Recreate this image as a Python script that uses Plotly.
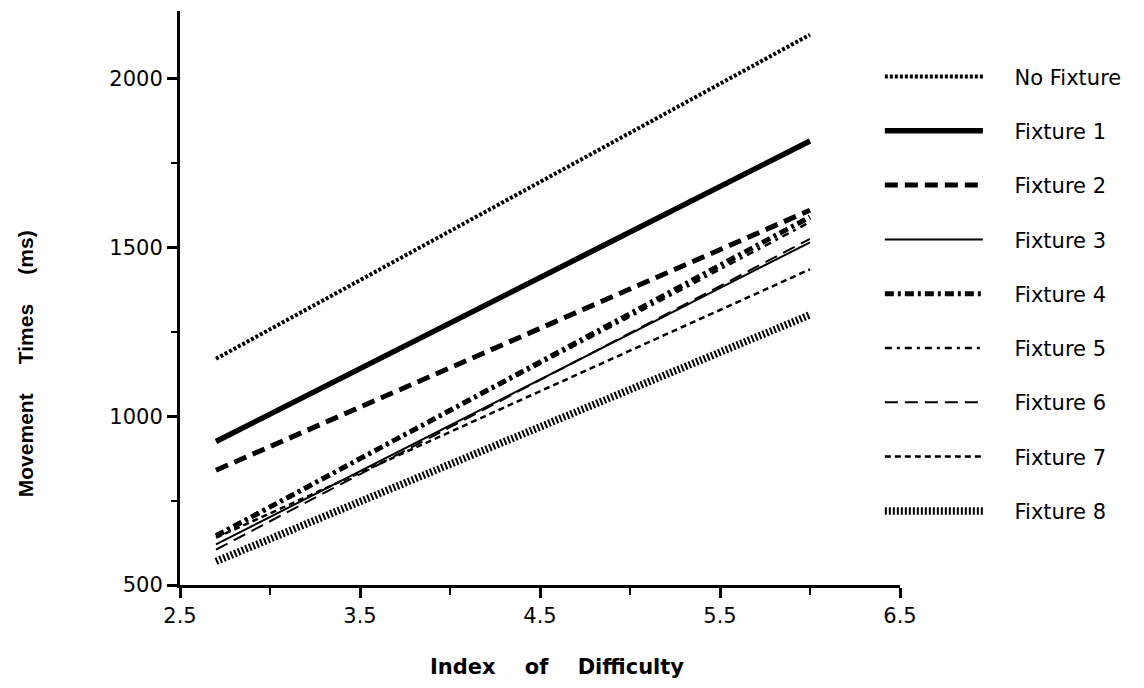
import plotly.graph_objects as go

# ---- data ----
id_values = [2.7, 6.0]
series_names = ["No Fixture", "Fixture 1", "Fixture 2", "Fixture 3", "Fixture 4",
                "Fixture 5", "Fixture 6", "Fixture 7", "Fixture 8"]
no_fixture = [1170, 2130]
fixture_1 = [925, 1815]
fixture_2 = [840, 1610]
fixture_3 = [620, 1515]
fixture_4 = [645, 1590]
fixture_5 = [650, 1575]
fixture_6 = [605, 1525]
fixture_7 = [640, 1435]
fixture_8 = [570, 1300]
series_values = [no_fixture, fixture_1, fixture_2, fixture_3, fixture_4,
                 fixture_5, fixture_6, fixture_7, fixture_8]

x_tick_vals = [2.5, 3.5, 4.5, 5.5, 6.5]
x_tick_text = ["2.5", "3.5", "4.5", "5.5", "6.5"]
y_tick_vals = [500, 1000, 1500, 2000]
y_tick_text = ["500", "1000", "1500", "2000"]

# ---- styles ----
styles = [
    dict(width=4, dash="3px,2px"),
    dict(width=5.5, dash="solid"),
    dict(width=5, dash="13px,7px"),
    dict(width=2, dash="solid"),
    dict(width=5, dash="9px,4px,3px,4px"),
    dict(width=2.5, dash="7px,5px,3px,5px"),
    dict(width=2, dash="13px,7px"),
    dict(width=2.5, dash="6px,4px"),
    dict(width=7.5, dash="2px,2px"),
]

FONT = "DejaVu Sans"
pad = "\u00a0" * 4
gap5 = "\u00a0" * 5

fig = go.Figure()
for i, (name, vals, st) in enumerate(zip(series_names, series_values, styles)):
    fig.add_trace(go.Scatter(
        x=id_values, y=vals, mode="lines", name=pad + name,
        legendgroup=f"g{i}",
        line=dict(color="black", width=st["width"], dash=st["dash"]),
        hoverinfo="skip",
    ))

fig.update_layout(
    width=1144, height=688,
    margin=dict(l=172, r=252, t=3, b=111),
    paper_bgcolor="white", plot_bgcolor="white",
    font=dict(family=FONT, color="black", size=21),
    showlegend=True,
    legend=dict(
        x=0.972, y=0.921, xanchor="left", yanchor="top",
        font=dict(family=FONT, size=21, color="black"),
        itemwidth=98, tracegroupgap=24,
        bgcolor="rgba(0,0,0,0)", borderwidth=0,
    ),
    xaxis=dict(
        range=[2.5, 6.5], showgrid=False, zeroline=False,
        showline=True, linecolor="black", linewidth=3,
        tickmode="array", tickvals=x_tick_vals, ticktext=x_tick_text,
        ticks="outside", ticklen=10, tickwidth=3, tickcolor="black",
        tickfont=dict(family=FONT, size=21),
        minor=dict(dtick=0.5, tick0=2.5, ticks="outside", ticklen=7,
                   tickwidth=2, tickcolor="black", showgrid=False),
    ),
    yaxis=dict(
        range=[500, 2200], showgrid=False, zeroline=False,
        showline=True, linecolor="black", linewidth=3,
        tickmode="array", tickvals=y_tick_vals, ticktext=y_tick_text,
        ticks="outside", ticklen=10, tickwidth=3, tickcolor="black",
        tickfont=dict(family=FONT, size=21),
        minor=dict(dtick=250, tick0=500, ticks="outside", ticklen=6,
                   tickwidth=2, tickcolor="black", showgrid=False),
    ),
    annotations=[
        dict(text="Index\u00a0\u00a0\u00a0\u00a0of\u00a0\u00a0\u00a0\u00a0Difficulty",
             xref="paper", yref="paper", x=0.524, y=-0.143,
             xanchor="center", yanchor="middle", showarrow=False,
             font=dict(family=FONT, size=21, color="black", weight="bold")),
        dict(text="Movement" + gap5 + "Times" + gap5 + "(ms)",
             xref="paper", yref="paper", x=-0.215, y=0.385,
             xanchor="center", yanchor="middle", showarrow=False, textangle=-90,
             font=dict(family="Liberation Sans", size=21, color="black", weight="bold")),
    ],
)

fig.write_html("out.html")
